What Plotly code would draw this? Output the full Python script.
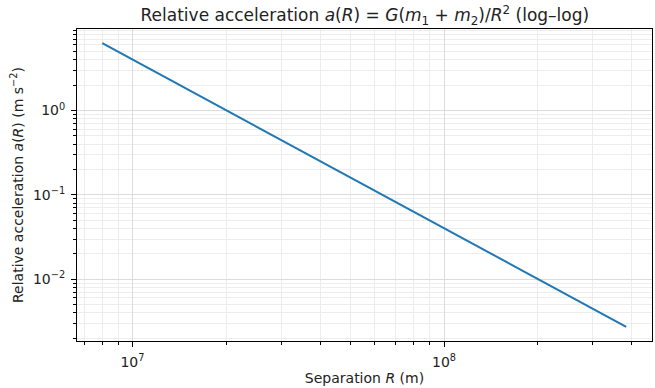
import plotly.graph_objects as go

# Data (log-log straight line)
separation_m = [8.0e6, 3.844e8]
acceleration = [6.30, 2.73e-3]

x_major = [1e7, 1e8]
x_major_text = ["10<sup>7</sup>", "10<sup>8</sup>"]
y_major = [1e-2, 1e-1, 1e0]
y_major_text = ["10<sup>−2</sup>", "10<sup>−1</sup>", "10<sup>0</sup>"]
mantissas = [2, 3, 4, 5, 6, 7, 8, 9]
x_decades = [1e6, 1e7, 1e8]
y_decades = [1e-3, 1e-2, 1e-1, 1e0]

x_minor = [m * d for d in x_decades for m in mantissas]
y_minor = [m * d for d in y_decades for m in mantissas]

FONT = "DejaVu Sans"

fig = go.Figure()
fig.add_trace(go.Scatter(
    x=separation_m, y=acceleration, mode="lines",
    line=dict(color="#1f77b4", width=2), showlegend=False,
))

axis_common = dict(
    type="log",
    showline=True, linecolor="black", linewidth=1, mirror=True,
    ticks="outside", ticklen=5, tickwidth=1, tickcolor="black",
    tickmode="array",
    showgrid=True, gridcolor="#dcdcdc", gridwidth=1,
    zeroline=False,
    tickfont=dict(family=FONT, size=14, color="#222"),
    ticklabelstandoff=3,
)

fig.update_xaxes(
    **axis_common,
    range=[6.822, 8.6675],
    tickvals=x_major, ticktext=x_major_text,
    minor=dict(tickmode="array", tickvals=x_minor, ticks="outside", ticklen=3,
               tickcolor="black", showgrid=True, gridcolor="#ededed", gridwidth=1),
    title=dict(text="Separation <i>R</i> (m)", font=dict(family=FONT, size=14, color="#222"), standoff=4),
)
fig.update_yaxes(
    **axis_common,
    range=[-2.732, 0.967],
    tickvals=y_major, ticktext=y_major_text,
    minor=dict(tickmode="array", tickvals=y_minor, ticks="outside", ticklen=3,
               tickcolor="black", showgrid=True, gridcolor="#ededed", gridwidth=1),
    title=dict(text="Relative acceleration <i>a</i>(<i>R</i>) (m s<sup>−2</sup>)",
               font=dict(family=FONT, size=14, color="#222"), standoff=6),
)

fig.update_layout(
    width=655, height=388,
    margin=dict(l=77, r=3, t=29, b=47),
    paper_bgcolor="white", plot_bgcolor="white",
    title=dict(
        text="Relative acceleration <i>a</i>(<i>R</i>) = <i>G</i>(<i>m</i><sub>1</sub> + <i>m</i><sub>2</sub>)/<i>R</i><sup>2</sup> (log–log)",
        font=dict(family=FONT, size=17, color="#222"),
        x=0.557, xanchor="center", y=0.96, yanchor="middle",
    ),
)

fig.write_html("out.html")
